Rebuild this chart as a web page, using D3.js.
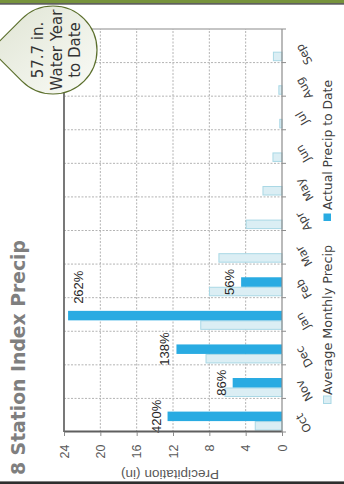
<!DOCTYPE html>
<html>
<head>
<meta charset="utf-8">
<script src="https://cdn.jsdelivr.net/npm/d3@7"></script>
<style>
  html, body { margin: 0; padding: 0; background: #fff; overflow: hidden; }
  svg { display: block; }
</style>
</head>
<body>
<svg id="chart" width="344" height="484"></svg>
<script>
// Water-year months and precipitation (inches)
const months = ["Oct", "Nov", "Dec", "Jan", "Feb", "Mar", "Apr", "May", "Jun", "Jul", "Aug", "Sep"];
const averagePrecip = [3.0, 6.33, 8.42, 9.0, 8.04, 7.0, 4.0, 2.15, 1.05, 0.3, 0.4, 1.0];
const actualPrecip = [12.6, 5.43, 11.62, 23.55, 4.5, null, null, null, null, null, null, null];
const valueTicks = [0, 4, 8, 12, 16, 20, 24];
const seriesNames = ["Average Monthly Precip", "Actual Precip to Date"];
const titleText = "8 Station Index Precip";
const axisTitleText = "Precipitation (in)";

const svg = d3.select("#chart");
const SW = 344, SH = 484;

// The chart is laid out as a normal column chart (W x H) and turned a quarter turn.
const W = SH, H = SW;
const g = svg.append("g").attr("transform", `translate(0,${W}) rotate(-90)`);

const plot = { left: 52, right: 455, top: 64, bottom: 282 };

const x = d3.scaleBand().domain(months).range([plot.left, plot.right]);
const xs = d3.scaleBand().domain(seriesNames).range([1.4, 20.4]);
const y = d3.scaleLinear().domain([0, 24]).range([plot.bottom, plot.top]);

const colors = {
  avgFill: "#dbeef4", avgStroke: "#a9d8e5",
  act: "#29abe2"
};

// Gridlines
const grid = g.append("g").attr("stroke", "#b4b4b4").attr("stroke-width", 1)
  .attr("stroke-dasharray", "2,1.5");
grid.selectAll("line.v").data(valueTicks.filter(v => v > 0 && v < 24)).join("line")
  .attr("x1", plot.left).attr("x2", plot.right)
  .attr("y1", d => y(d)).attr("y2", d => y(d));
grid.selectAll("line.c").data(months.slice(1)).join("line")
  .attr("x1", d => x(d)).attr("x2", d => x(d))
  .attr("y1", plot.top).attr("y2", plot.bottom);

// Plot frame
g.append("line").attr("x1", plot.right).attr("x2", plot.right)
  .attr("y1", plot.top).attr("y2", plot.bottom)
  .attr("stroke", "#8c8c8c").attr("stroke-width", 1.2);
g.append("line").attr("x1", plot.left).attr("x2", plot.right)
  .attr("y1", plot.top).attr("y2", plot.top)
  .attr("stroke", "#6a6a6a").attr("stroke-width", 1.8);

// Bars
const rows = months.map((m, i) => ({ m, avg: averagePrecip[i], act: actualPrecip[i] }));
const bw = xs.bandwidth();

g.append("g").selectAll("rect").data(rows).join("rect")
  .attr("x", d => x(d.m) + xs(seriesNames[0]) + 0.5)
  .attr("width", bw - 1)
  .attr("y", d => y(d.avg) + 0.5)
  .attr("height", d => Math.max(0, y(0) - y(d.avg) - 0.5))
  .attr("fill", colors.avgFill)
  .attr("stroke", colors.avgStroke)
  .attr("stroke-width", 1);

const actRows = rows.filter(d => d.act != null);
g.append("g").selectAll("rect").data(actRows).join("rect")
  .attr("x", d => x(d.m) + xs(seriesNames[1]))
  .attr("width", bw)
  .attr("y", d => y(d.act))
  .attr("height", d => y(0) - y(d.act))
  .attr("fill", colors.act);

// Percent-of-average labels
const labelFont = "'Liberation Sans', Arial, sans-serif";
g.append("g").selectAll("text").data(actRows).join("text")
  .each(function (d) {
    const t = d3.select(this);
    const top = y(d.act);
    const bx = x(d.m) + xs(seriesNames[1]);
    if (top - 7 - 10 < plot.top) {
      t.attr("x", bx + bw + 7).attr("y", top + 15).attr("text-anchor", "start");
    } else {
      t.attr("x", bx + bw / 2).attr("y", top - 7).attr("text-anchor", "middle");
    }
  })
  .attr("font-family", labelFont)
  .attr("font-size", 13)
  .attr("fill", "#262626")
  .text(d => Math.round(d.act / d.avg * 100) + "%");

// Value axis
const yAxis = g.append("g").attr("transform", `translate(${plot.left},0)`)
  .call(d3.axisLeft(y).tickValues(valueTicks).tickSize(4).tickPadding(8.5).tickSizeOuter(0));
yAxis.select(".domain").attr("stroke", "#5f5f5f").attr("stroke-width", 2);
yAxis.selectAll(".tick line").attr("stroke", "#8c8c8c");
yAxis.selectAll(".tick text").attr("font-family", labelFont).attr("font-size", 12.5).attr("fill", "#595959");

g.append("text")
  .attr("transform", `translate(14,${(plot.top + plot.bottom) / 2 - 3}) rotate(-90)`)
  .attr("text-anchor", "middle")
  .attr("font-family", labelFont)
  .attr("font-size", 12)
  .attr("fill", "#595959")
  .attr("textLength", 98)
  .attr("lengthAdjust", "spacingAndGlyphs")
  .text(axisTitleText);

// Category axis
g.append("line").attr("x1", plot.left).attr("x2", plot.right)
  .attr("y1", plot.bottom).attr("y2", plot.bottom)
  .attr("stroke", "#8c8c8c").attr("stroke-width", 1.2);
g.append("g").selectAll("line").data(months.slice(1)).join("line")
  .attr("x1", d => x(d)).attr("x2", d => x(d))
  .attr("y1", plot.bottom).attr("y2", plot.bottom + 4)
  .attr("stroke", "#8c8c8c");
g.append("line").attr("x1", plot.right).attr("x2", plot.right)
  .attr("y1", plot.bottom).attr("y2", plot.bottom + 4).attr("stroke", "#8c8c8c");
g.append("line").attr("x1", plot.left).attr("x2", plot.left)
  .attr("y1", plot.bottom).attr("y2", plot.bottom + 4).attr("stroke", "#8c8c8c");

const uiFont = "'DejaVu Sans', Verdana, sans-serif";
g.append("g").selectAll("text").data(months).join("text")
  .attr("transform", d => `translate(${x(d) + x.bandwidth() / 2 + 2.7},${plot.bottom + 20}) rotate(-30)`)
  .attr("text-anchor", "end")
  .attr("font-family", uiFont)
  .attr("font-size", 11.5)
  .attr("fill", "#404040")
  .text(d => d);

// Legend
const legend = g.append("g");
const legendItems = [
  { name: seriesNames[0], sx: 80.5, tx: 89, len: 150, fill: colors.avgFill, stroke: colors.avgStroke },
  { name: seriesNames[1], sx: 263, tx: 274, len: 130, fill: colors.act, stroke: "none" }
];
legend.selectAll("rect").data(legendItems).join("rect")
  .attr("x", d => d.sx).attr("y", 323.5).attr("width", 7.5).attr("height", 7.5)
  .attr("fill", d => d.fill).attr("stroke", d => d.stroke);
legend.selectAll("text").data(legendItems).join("text")
  .attr("x", d => d.tx).attr("y", 332)
  .attr("font-family", uiFont).attr("font-size", 12.5).attr("fill", "#404040")
  .attr("textLength", d => d.len).attr("lengthAdjust", "spacingAndGlyphs")
  .text(d => d.name);

// Title
g.append("text")
  .attr("x", 9).attr("y", 25)
  .attr("font-family", uiFont).attr("font-weight", "bold").attr("font-size", 20)
  .attr("fill", "#7f7f7f")
  .attr("textLength", 235).attr("lengthAdjust", "spacingAndGlyphs")
  .text(titleText);

// Frame bands
svg.append("rect").attr("x", 0).attr("y", 0).attr("width", SW).attr("height", 3.2).attr("fill", "#77933c");
svg.append("rect").attr("x", 0).attr("y", 3.2).attr("width", SW).attr("height", 1.4).attr("fill", "#3f3f3f");
svg.append("rect").attr("x", 0).attr("y", SH - 2.6).attr("width", SW).attr("height", 2.6).attr("fill", "#2e2e2e");

// Water-year total callout
const defs = svg.append("defs");
const grad = defs.append("linearGradient").attr("id", "calloutFill")
  .attr("x1", "0%").attr("y1", "0%").attr("x2", "100%").attr("y2", "100%");
grad.append("stop").attr("offset", "0%").attr("stop-color", "#dfe4d3");
grad.append("stop").attr("offset", "100%").attr("stop-color", "#fafbf7");

const cx = 53, cy = 50, r = 44;
const tipX = cx - r * Math.SQRT2;
const tx = cx - r * Math.SQRT1_2;
svg.append("path")
  .attr("d", `M${tipX},${cy} L${tx},${cy - r * Math.SQRT1_2} A${r},${r} 0 1 1 ${tx},${cy + r * Math.SQRT1_2} Z`)
  .attr("fill", "url(#calloutFill)")
  .attr("stroke", "#5b6f2c")
  .attr("stroke-width", 1.2);

const total = d3.sum(actualPrecip.filter(v => v != null));
const calloutLines = [total.toFixed(1) + " in.", "Water Year", "to Date"];
const lineX = [43, 61.5, 80];
svg.append("g").selectAll("text").data(calloutLines).join("text")
  .attr("transform", (d, i) => `translate(${lineX[i]},${cy}) rotate(-90)`)
  .attr("text-anchor", "middle")
  .attr("font-family", uiFont).attr("font-size", 15).attr("fill", "#333")
  .text(d => d);
</script>
</body>
</html>
